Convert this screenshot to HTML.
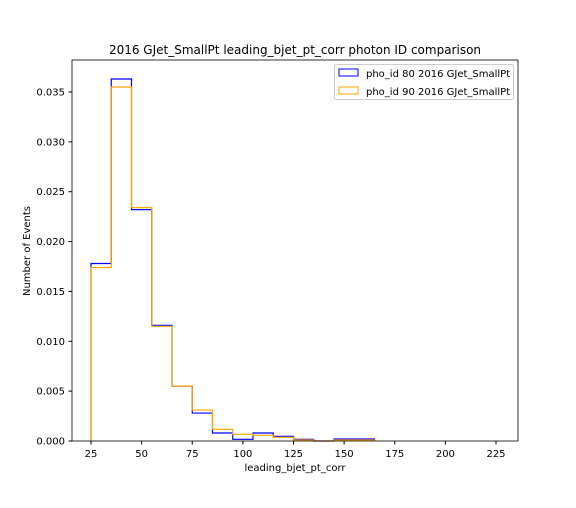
<!DOCTYPE html>
<html><head><meta charset="utf-8"><style>
body{margin:0;background:#fff;font-family:"DejaVu Sans","Liberation Sans",sans-serif}
svg text{font-family:"DejaVu Sans","Liberation Sans",sans-serif;fill:#000}
</style></head><body>
<svg id="chart" width="576" height="504" viewBox="0 0 576 504">
<rect x="0" y="0" width="576" height="504" fill="#fff"/>
<text x="295" y="54" font-size="12" text-anchor="middle">2016 GJet_SmallPt leading_bjet_pt_corr photon ID comparison</text>
<g id="marks"></g>
<g id="axes"></g>
<rect x="72" y="60" width="446" height="381" fill="none" stroke="#000" stroke-width="0.8"/>
<text x="295" y="471" font-size="10" text-anchor="middle">leading_bjet_pt_corr</text>
<text transform="translate(30,251) rotate(-90)" font-size="10" text-anchor="middle">Number of Events</text>
<g>
<rect x="334.5" y="64.5" width="179" height="35" fill="#fff" stroke="#ccc" rx="2"/>
<rect x="339" y="69" width="19" height="7" fill="none" stroke="blue"/>
<text x="366" y="77" font-size="10">pho_id 80 2016 GJet_SmallPt</text>
<rect x="339" y="87" width="19" height="7" fill="none" stroke="orange"/>
<text x="366" y="95" font-size="10">pho_id 90 2016 GJet_SmallPt</text>
</g>
</svg>
<script>
const binEdges=[25,35,45,55,65,75,85,95,105,115,125,135,145,155,165];
const id80=[0.0178,0.0363,0.0232,0.0116,0.0055,0.0028,0.0008,0.00017,0.0008,0.00047,0.00017,0.0,0.0002,0.0002];
const id90=[0.0174,0.0355,0.0234,0.0115,0.0055,0.0031,0.00117,0.00067,0.00057,0.00037,0.0001,0.0,0.0001,0.0001];
const xTicks=[25,50,75,100,125,150,175,200,225];
const yTicks=[0,0.005,0.010,0.015,0.020,0.025,0.030,0.035];
const yTickLabels=["0.000","0.005","0.010","0.015","0.020","0.025","0.030","0.035"];
const NS="http://www.w3.org/2000/svg";
function xs(v){return 91+(v-25)*2.025;}
function ys(v){return 441-v*9972;}
const marks=document.getElementById('marks'),axes=document.getElementById('axes');
function step(vals,color,name){
  let d='M'+xs(binEdges[0])+','+ys(0);
  for(let i=0;i<vals.length;i++){d+=' L'+xs(binEdges[i])+','+ys(vals[i])+' L'+xs(binEdges[i+1])+','+ys(vals[i]);}
  d+=' L'+xs(binEdges[vals.length])+','+ys(0);
  const p=document.createElementNS(NS,'path');
  p.setAttribute('d',d);p.setAttribute('fill','none');p.setAttribute('stroke',color);p.setAttribute('stroke-width','1.2');
  
  
  marks.appendChild(p);
}
step(id80,'blue','series-id80');
step(id90,'orange','series-id90');
xTicks.forEach(t=>{
  const l=document.createElementNS(NS,'line');
  l.setAttribute('x1',xs(t));l.setAttribute('x2',xs(t));l.setAttribute('y1',441);l.setAttribute('y2',444.5);l.setAttribute('stroke','#000');
  
  
  axes.appendChild(l);
  const tx=document.createElementNS(NS,'text');
  tx.setAttribute('x',xs(t));tx.setAttribute('y',457);tx.setAttribute('font-size','10');tx.setAttribute('text-anchor','middle');
  tx.textContent=t;
  
  
  axes.appendChild(tx);
});
yTicks.forEach((t,i)=>{
  const l=document.createElementNS(NS,'line');
  l.setAttribute('x1',68.5);l.setAttribute('x2',72);l.setAttribute('y1',ys(t));l.setAttribute('y2',ys(t));l.setAttribute('stroke','#000');
  
  
  axes.appendChild(l);
  const tx=document.createElementNS(NS,'text');
  tx.setAttribute('x',65);tx.setAttribute('y',ys(t)+3.5);tx.setAttribute('font-size','10');tx.setAttribute('text-anchor','end');
  tx.textContent=yTickLabels[i];
  
  
  axes.appendChild(tx);
});
</script>
</body></html>
